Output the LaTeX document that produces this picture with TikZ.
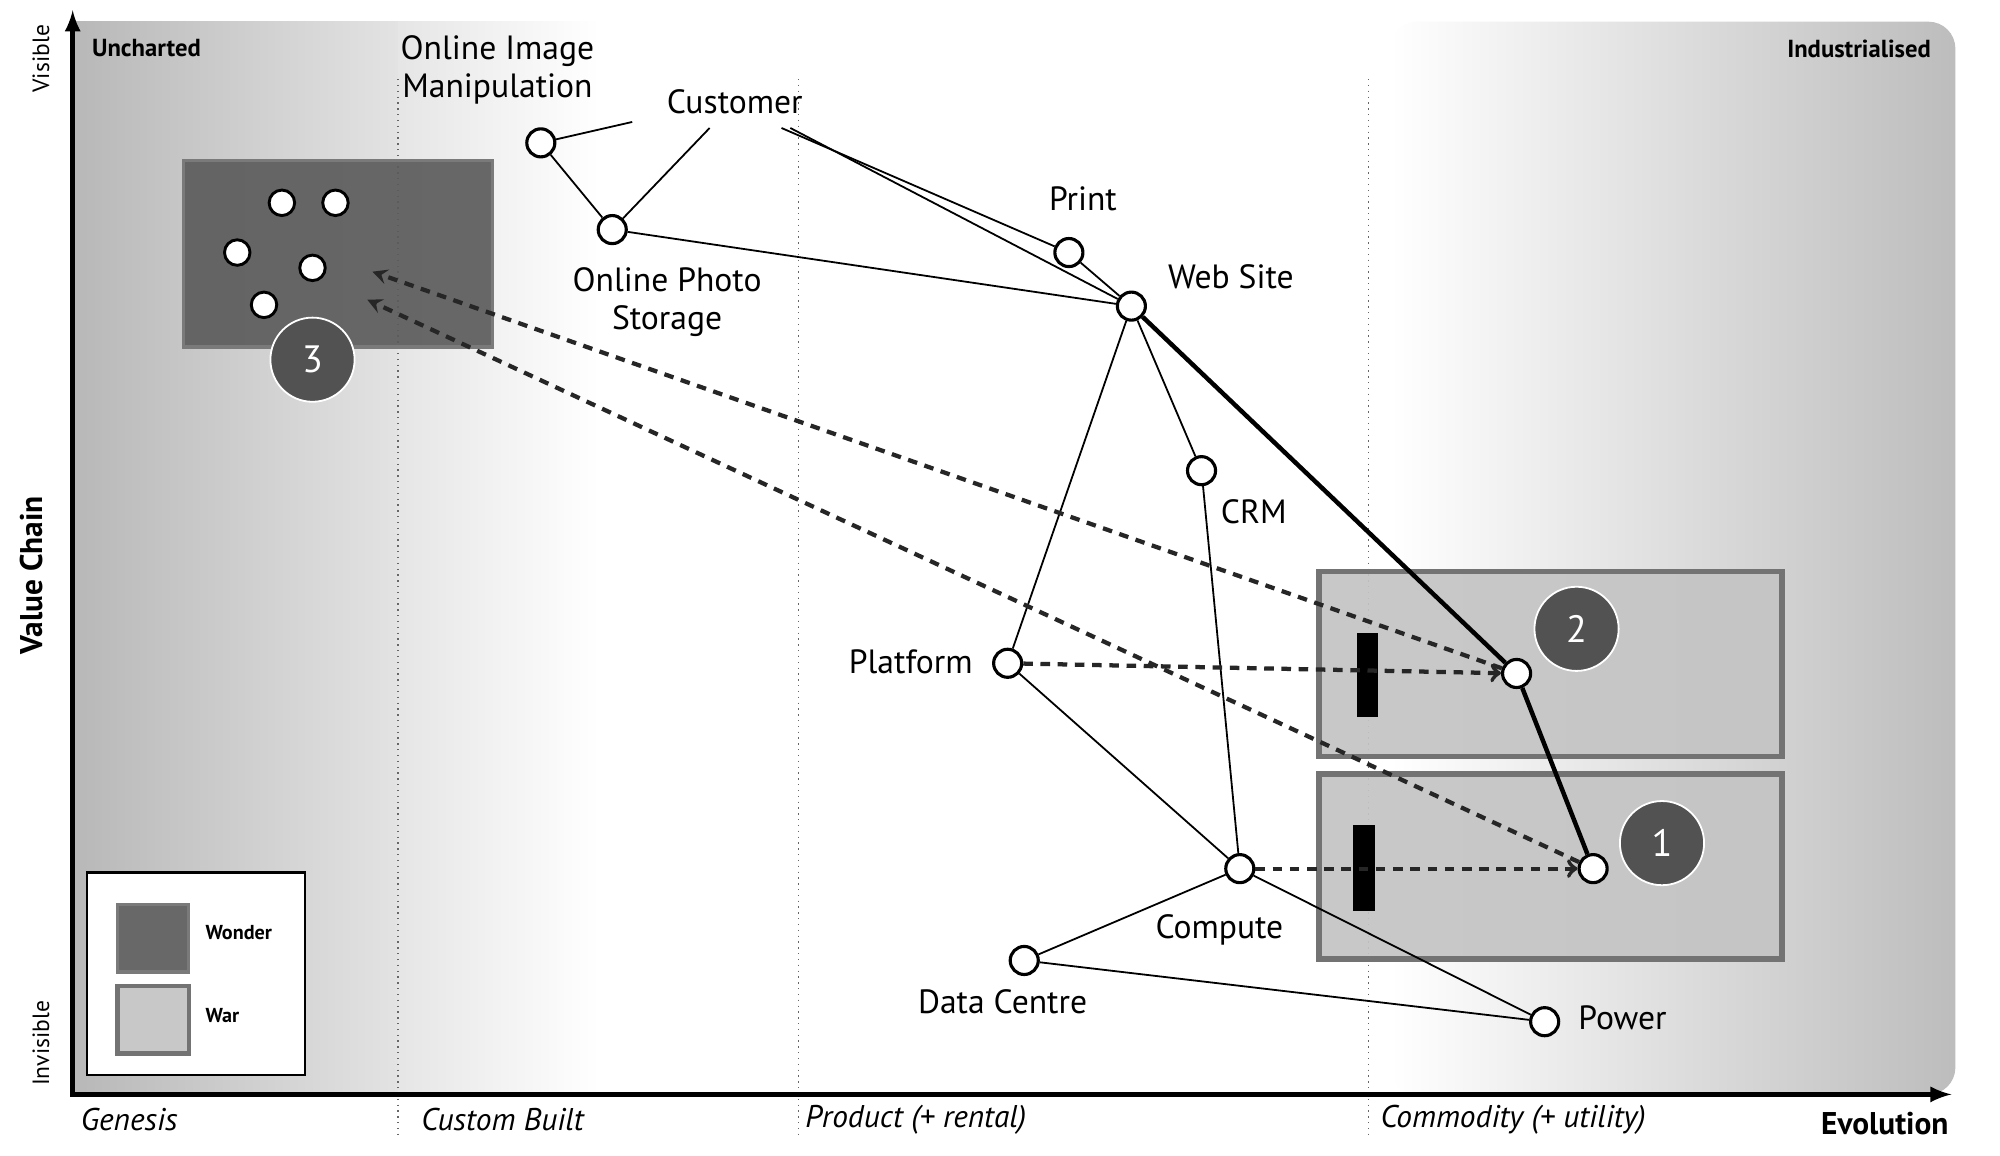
\documentclass[tikz,border=0pt]{standalone}
\usepackage{fontspec}
\setmainfont{PT Sans}
\pgfdeclarelayer{bg}
\pgfsetlayers{bg,main}

\begin{document}
\begin{tikzpicture}[x=0.02cm,y=-0.02cm,
  comp/.style={circle,draw=black,line width=1.4pt,fill=white,minimum size=0.44cm,inner sep=0pt},
  seed/.style={circle,draw=black,line width=1.3pt,fill=white,minimum size=0.4cm,inner sep=0pt},
  lbl/.style={font=\fontsize{15}{17}\selectfont,align=center,inner sep=1pt},
  stage/.style={font=\fontsize{14}{14}\selectfont\itshape,anchor=west,inner sep=0pt},
  num/.style={circle,fill=black!68,draw=white,line width=0.8pt,minimum size=1.32cm,text=white,font=\fontsize{17}{17}\selectfont},
  link/.style={line width=0.8pt},
  move/.style={line width=1.9pt,black!85,dash pattern=on 0.15cm off 0.12cm},
  war/.style={draw=black!55,line width=2.5pt,fill=black!23,fill opacity=0.92},
  wonder/.style={draw=black!52,line width=1.5pt,fill=black!64,fill opacity=0.92}]
  \useasboundingbox (0,0) rectangle (1568,906);

  \fill (1064,496) rectangle (1080,562);
  \fill (1061,647) rectangle (1078,714);
  \draw[line width=2.2pt,latex-latex] (57,8) |- (1530,858);

  \node[rotate=90,font=\fontsize{10.5}{10.5}\selectfont] (visible) at (32,46) {Visible};
  \node[rotate=90,font=\fontsize{10.5}{10.5}\selectfont] (invisible) at (32,818) {Invisible};
  \node[rotate=90,font=\fontsize{14}{14}\selectfont\bfseries] (vchain) at (25,451) {Value Chain};
  \node[anchor=west,font=\fontsize{11}{11}\selectfont\bfseries] (uncharted) at (66,38) {Uncharted};
  \node[anchor=east,font=\fontsize{11}{11}\selectfont\bfseries] (industrial) at (1520,38) {Industrialised};
  \node[stage] (genesis) at (63,878) {Genesis};
  \node[stage] (custom) at (330,878) {Custom Built};
  \node[stage] (product) at (631,878) {Product (+ rental)};
  \node[stage] (commodity) at (1082,878) {Commodity (+ utility)};
  \node[anchor=east,font=\fontsize{14}{14}\selectfont\bfseries,inner sep=0pt] (evolution) at (1528,881) {Evolution};

  \draw[line width=1pt,fill=white] (68,684) rectangle (239,843);
  \draw[wonder] (92,709) rectangle (148,762);
  \draw[war,line width=2pt] (92,773) rectangle (148,826);
  \node[anchor=west,font=\fontsize{9}{9}\selectfont\bfseries] (lwonder) at (155,731) {Wonder};
  \node[anchor=west,font=\fontsize{9}{9}\selectfont\bfseries] (lwar) at (155,796) {War};

  \node[seed] (s1) at (221,159) {};
  \node[seed] (s2) at (263,159) {};
  \node[seed] (s3) at (186,198) {};
  \node[seed] (s4) at (245,210) {};
  \node[seed] (s5) at (207,239) {};

  \node[minimum width=3.2cm,minimum height=0.8cm,lbl] (Customer) at (576,80) {Customer};
  \node[comp] (Image) at (424,112) {};
  \node[comp] (Photo) at (480,180) {};
  \node[comp] (Print) at (838,198) {};
  \node[comp] (Web) at (887,240) {};
  \node[comp] (CRM) at (942,369) {};
  \node[comp] (Platform) at (790,520) {};
  \node[comp] (Compute) at (972,681) {};
  \node[comp] (Data) at (803,753) {};
  \node[comp] (Power) at (1211,801) {};
  \node[comp] (WebU) at (1189,528) {};
  \node[comp] (ComputeU) at (1249,681) {};

  \node[lbl] (tImage) at (390,55) {Online Image\\Manipulation};
  \node[lbl] (tPhoto) at (523,237) {Online Photo\\Storage};
  \node[lbl] (tPrint) at (849,156) {Print};
  \node[lbl] (tWeb) at (965,217) {Web Site};
  \node[lbl] (tCRM) at (983,401) {CRM};
  \node[lbl] (tPlatform) at (714,519) {Platform};
  \node[lbl] (tCompute) at (956,729) {Compute};
  \node[lbl] (tData) at (786,785) {Data Centre};
  \node[lbl] (tPower) at (1272,798) {Power};

  \begin{pgfonlayer}{bg}
    \fill[white] (0,0) rectangle (1568,906);
    \shade[left color=black!28,right color=black!11] (57,17) rectangle (312,858);
    \shade[left color=black!10,right color=white] (312,17) rectangle (470,858);
    \shade[left color=white,right color=black!26,rounded corners=12] (1090,17) rectangle (1533,858);
    \foreach \x in {312,626,1073}
      \draw[dotted,black!60,line width=0.6pt] (\x,62) -- (\x,893);
    \draw[wonder] (144,126) rectangle (386,272);
    \draw[war] (1034,448) rectangle (1397,593);
    \draw[war] (1034,607) rectangle (1397,752);
  \end{pgfonlayer}

  \draw[link] (Customer.191) -- (Image);
  \draw[link] (Customer.226) -- (Photo);
  \draw[link] (Customer.331) -- (Print);
  \draw[link] (Customer.335) -- (Web);
  \draw[link] (Image) -- (Photo);
  \draw[link] (Photo) -- (Web);
  \draw[link] (Print) -- (Web);
  \draw[link] (Web) -- (Platform);
  \draw[link] (Web) -- (CRM);
  \draw[link] (CRM) -- (Compute);
  \draw[link] (Platform) -- (Compute);
  \draw[link] (Compute) -- (Data);
  \draw[link] (Compute) -- (Power);
  \draw[link] (Data) -- (Power);
  \draw[line width=2pt] (Web) -- (WebU) -- (ComputeU);

  \coordinate (back1) at (292,213);
  \coordinate (back2) at (288,235);
  \draw[move,->] (Platform) -- (WebU);
  \draw[move,->] (Compute) -- (ComputeU);
  \draw[move,-stealth] (WebU) -- (back1);
  \draw[move,-stealth] (ComputeU) -- (back2);

  \node[num] (n3) at (245,282) {3};
  \node[num] (n2) at (1236,493) {2};
  \node[num] (n1) at (1303,661) {1};
\end{tikzpicture}
\end{document}
